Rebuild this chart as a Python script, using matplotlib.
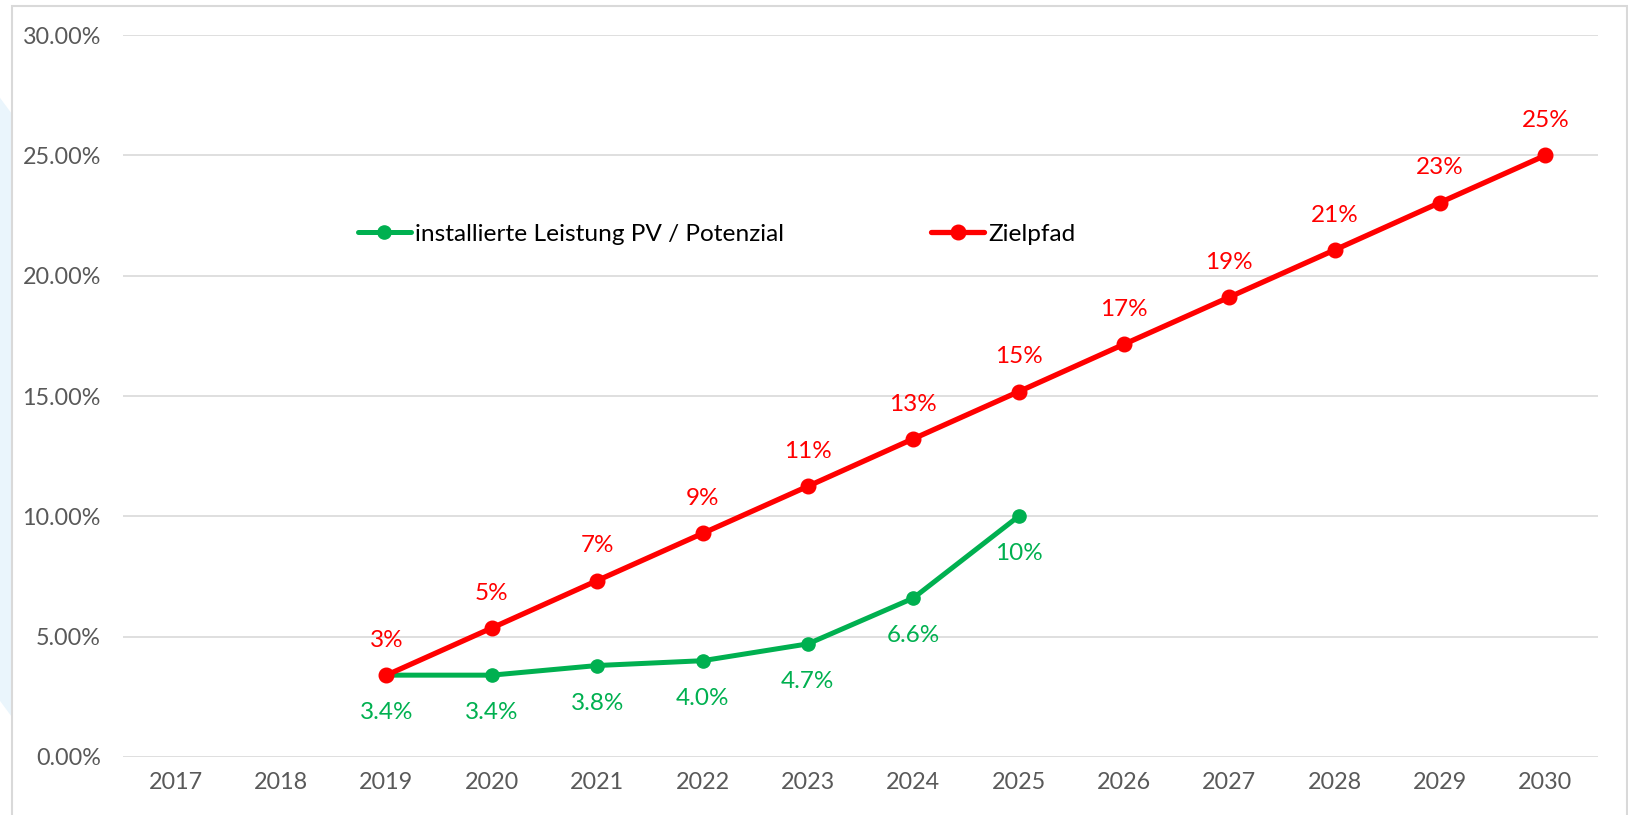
import numpy as np
import matplotlib
matplotlib.use("Agg")
import matplotlib.pyplot as plt
from matplotlib.patches import Rectangle, Polygon
import matplotlib.ticker as ticker

# data
years = ["2017", "2018", "2019", "2020", "2021", "2022", "2023",
         "2024", "2025", "2026", "2027", "2028", "2029", "2030"]
pv_years = ["2019", "2020", "2021", "2022", "2023", "2024", "2025"]
pv_vals = [3.4, 3.4, 3.8, 4.0, 4.7, 6.6, 10.0]
pv_labels = ["3.4%", "3.4%", "3.8%", "4.0%", "4.7%", "6.6%", "10%"]
ziel_years = ["2019", "2020", "2021", "2022", "2023", "2024", "2025",
              "2026", "2027", "2028", "2029", "2030"]
ziel_vals = [3.4, 5.36, 7.33, 9.29, 11.25, 13.22, 15.18,
             17.15, 19.11, 21.07, 23.04, 25.0]
ziel_labels = ["3%", "5%", "7%", "9%", "11%", "13%", "15%",
               "17%", "19%", "21%", "23%", "25%"]

GREEN = "#00B050"
RED = "#FF0000"
GREY = "#595959"

plt.rcParams['font.family'] = ['Lato', 'DejaVu Sans']

fig = plt.figure(figsize=(16.28, 8.15), dpi=100)
ax = fig.add_axes([0.0756, 0.0712, 0.906, 0.8858])

# faint background decoration + chart frame
fig.patches.append(Polygon([(0, 0.88), (0.0074, 0.86), (0.0074, 0.12), (0, 0.14)],
                           closed=True, transform=fig.transFigure,
                           facecolor="#EAF5FC", edgecolor="none", zorder=0))
fig.patches.append(Rectangle((12/1628, -0.01), (1627-12)/1628, 1 - 6/815 + 0.01,
                             transform=fig.transFigure, fill=False,
                             edgecolor="#D9D9D9", linewidth=1.5, zorder=1))

x = np.arange(len(years))
xpv = [years.index(y) for y in pv_years]
xz = [years.index(y) for y in ziel_years]

ax.plot(xpv, np.array(pv_vals) / 100, color=GREEN, lw=3.6, marker='o',
        markersize=9.5, label='installierte Leistung PV / Potenzial', zorder=3,
        solid_capstyle='round')
ax.plot(xz, np.array(ziel_vals) / 100, color=RED, lw=3.8, marker='o',
        markersize=10.5, label='Zielpfad', zorder=4, solid_capstyle='round')

for xi, v, t in zip(xpv, pv_vals, pv_labels):
    ax.annotate(t, (xi, v / 100), xytext=(0, -27), textcoords='offset points',
                ha='center', va='center', color=GREEN, fontsize=17.5)
for xi, v, t in zip(xz, ziel_vals, ziel_labels):
    ax.annotate(t, (xi, v / 100), xytext=(0, 25), textcoords='offset points',
                ha='center', va='center', color=RED, fontsize=17.5)

ax.set_xlim(-0.5, len(years) - 0.5)
ax.set_ylim(0, 0.30)
ax.set_xticks(x)
ax.set_xticklabels(years)
ax.yaxis.set_major_locator(ticker.MultipleLocator(0.05))
ax.yaxis.set_major_formatter(ticker.FuncFormatter(lambda v, p: f"{v*100:.2f}%"))
ax.tick_params(axis='both', length=0, colors=GREY, labelsize=16.8)
ax.tick_params(axis='y', pad=16)
ax.tick_params(axis='x', pad=11)
ax.grid(axis='y', color='#D9D9D9', lw=1.2)
ax.set_axisbelow(True)
for s in ax.spines.values():
    s.set_visible(False)

ax.legend(loc='center left', bbox_to_anchor=(0.159, 0.724), ncol=2,
          frameon=False, fontsize=17.6, handlelength=2.2, handletextpad=0.15,
          columnspacing=6.0, borderpad=0, borderaxespad=0)

fig.savefig("out.png", dpi=100, facecolor='white')
